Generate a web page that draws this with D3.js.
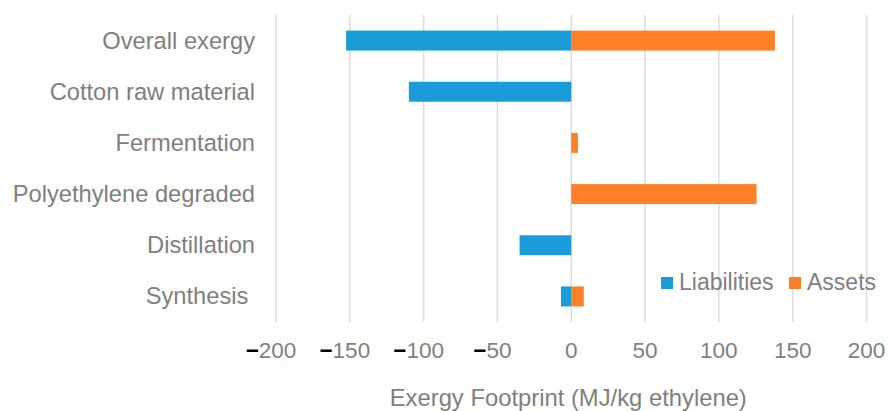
<!DOCTYPE html>
<html>
<head>
<meta charset="utf-8">
<script src="https://cdn.jsdelivr.net/npm/d3@7"></script>
<style>
  html, body { margin: 0; padding: 0; background: #fff; }
  svg { display: block; font-family: "Liberation Sans", Arial, sans-serif; }
  text { white-space: pre; }
</style>
</head>
<body>
<svg id="chart" width="888" height="411"></svg>
<script>
// Exergy footprint per process step, MJ per kg of ethylene
const categories = ["Overall exergy", "Cotton raw material", "Fermentation",
                    "Polyethylene degraded", "Distillation", "Synthesis "];
const liabilities = [-152.5, -110, 0, 0, -35, -7];
const assets = [138, 0, 4.5, 125.5, 0, 8.5];
const xTicks = [-200, -150, -100, -50, 0, 50, 100, 150, 200];
const seriesNames = ["Liabilities", "Assets"];
const seriesColors = ["#1a9cd8", "#ff7f27"];
const xTitle = "Exergy Footprint (MJ/kg ethylene)";

const svg = d3.select("#chart");
const textGray = "#7f7f7f";

const x = d3.scaleLinear().domain([-200, 200]).range([276, 866.5]);
const y = d3.scaleBand().domain(categories).range([15, 322])
  .paddingInner(0.61).paddingOuter(0.305);

// vertical gridlines
svg.append("g").selectAll("line").data(xTicks).join("line")
  .attr("x1", d => x(d)).attr("x2", d => x(d))
  .attr("y1", 15).attr("y2", 322)
  .attr("stroke", "#dedede").attr("stroke-width", 1.6);

// bars: liabilities extend left of zero, assets right
const series = [liabilities, assets];
series.forEach((vals, si) => {
  svg.append("g").selectAll("rect").data(vals.map((v, i) => ({v, c: categories[i]})))
    .join("rect")
    .filter(d => d.v !== 0)
    .attr("x", d => Math.min(x(0), x(d.v)))
    .attr("width", d => Math.abs(x(d.v) - x(0)))
    .attr("y", d => y(d.c))
    .attr("height", y.bandwidth())
    .attr("fill", seriesColors[si]);
});

// category labels
svg.append("g").selectAll("text").data(categories).join("text")
  .attr("x", 255)
  .attr("y", d => y(d) + y.bandwidth() / 2 + 8)
  .attr("text-anchor", "end")
  .attr("font-size", 23.7)
  .attr("fill", textGray)
  .text(d => d);

// x tick labels, negative sign drawn in black
const tickG = svg.append("g").selectAll("text").data(xTicks).join("text")
  .attr("x", d => x(d) + (d < 0 ? -5 : 0))
  .attr("y", 358)
  .attr("text-anchor", "middle")
  .attr("font-size", 22.5)
  .attr("fill", textGray);
tickG.each(function(d) {
  const t = d3.select(this);
  if (d < 0) {
    t.append("tspan").attr("fill", "#000").attr("font-weight", "bold").text("\u2212");
    t.append("tspan").text(Math.abs(d));
  } else {
    t.text(d);
  }
});

// axis title
svg.append("text")
  .attr("x", x(0) - 3).attr("y", 406)
  .attr("text-anchor", "middle")
  .attr("font-size", 23.8)
  .attr("fill", textGray)
  .text(xTitle);

// legend
const legendX = [661, 789];
const legend = svg.append("g").selectAll("g").data(seriesNames).join("g")
  .attr("transform", (d, i) => `translate(${legendX[i]},0)`);
legend.append("rect")
  .attr("x", 0).attr("y", 277).attr("width", 12).attr("height", 12)
  .attr("fill", (d, i) => seriesColors[i]);
legend.append("text")
  .attr("x", 18).attr("y", 290)
  .attr("font-size", 23)
  .attr("fill", textGray)
  .text(d => d);
</script>
</body>
</html>
